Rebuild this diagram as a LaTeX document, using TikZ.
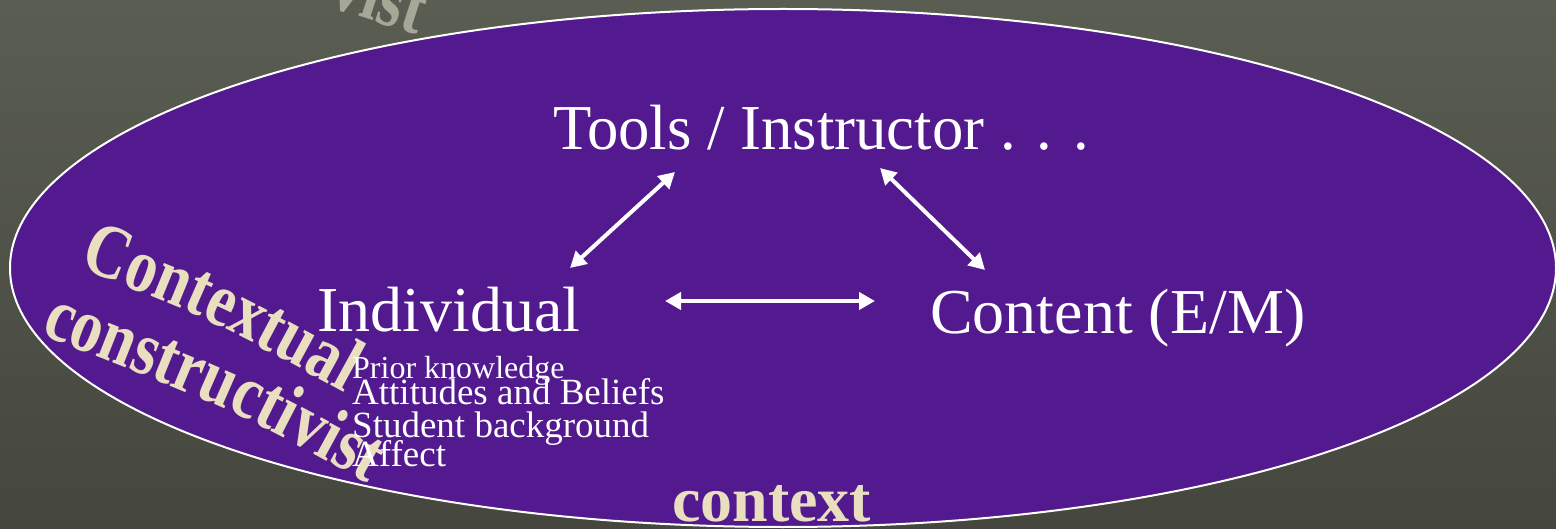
\documentclass[tikz,border=0pt]{standalone}
\usepackage{fontspec}
\setmainfont{Liberation Serif}
\newfontfamily\narrowbold[FakeStretch=0.81, UprightFont=* Bold]{Liberation Serif}
\usetikzlibrary{arrows.meta,decorations.text}
\definecolor{bgtop}{HTML}{5A5D52}
\definecolor{bgbot}{HTML}{45473E}
\definecolor{field}{HTML}{521A8E}
\definecolor{cream}{HTML}{E9DFC0}
\definecolor{ghost}{HTML}{A6A796}
\newcommand{\wordartfont}{\narrowbold\fontsize{77}{77}\selectfont}
\tikzset{
  biglabel/.style={font=\fontsize{64}{64}\selectfont, text=white, inner sep=0pt},
  listitem/.style={font=\fontsize{37}{37}\selectfont, text=white, inner sep=0pt, anchor=base west},
  tilted/.style={font=\wordartfont, text=cream, inner sep=0pt, anchor=base},
  curvedword/.style={decorate, decoration={text along path, text align=left,
      text={|\wordartfont\color{cream}|#1}}},
  dbl/.style={white, line width=4pt, {Triangle[length=16pt,width=17pt]}-{Triangle[length=16pt,width=17pt]}}
}
\begin{document}
\begin{tikzpicture}[x=1pt,y=1pt]
\useasboundingbox (0,0) rectangle (1556,-529);
\clip (0,0) rectangle (1556,-529);
% backdrop
\shade[top color=bgtop, bottom color=bgbot] (0,0) rectangle (1556,-529);
% partial tilted word above the ellipse
\node[tilted, text=ghost, anchor=base east, rotate=-18] (ghostword) at (417,-35) {vist};
% context ellipse
\draw[white, line width=2pt, fill=field] (783,-268) ellipse [x radius=773, y radius=259];

% curved labels on the left
\path[curvedword={Contextual}] (78,-268) .. controls (208,-318) .. (352,-397);
\path[curvedword={constructivist}] (40,-334) .. controls (239,-412) .. (390,-496);
\node[tilted, font=\fontsize{64}{64}\selectfont\bfseries, anchor=base west] (context) at (672,-521) {context};

% main labels
\node[biglabel, anchor=base west] (tools) at (553,-150) {\scalebox{0.98}[1]{Tools / Instructor . . .}};
\node[biglabel, anchor=base west] (indiv) at (317,-332) {Individual};
\node[biglabel, anchor=base west] (content) at (930,-334) {Content (E/M)};

% attributes of the individual
\node[listitem, font=\fontsize{32}{32}\selectfont] (li1) at (352,-378) {Prior knowledge};
\node[listitem] (li2) at (352,-404) {Attitudes and Beliefs};
\node[listitem] (li3) at (352,-437) {Student background};
\node[listitem] (li4) at (352,-466) {Affect};

% connector end points
\coordinate (ti1) at (675,-172);
\coordinate (ti2) at (570,-268);
\coordinate (tc1) at (880,-168);
\coordinate (tc2) at (985,-270);
\coordinate (ic1) at (665,-301);
\coordinate (ic2) at (875,-301);
\draw[dbl] (ti1) -- (ti2);
\draw[dbl] (tc1) -- (tc2);
\draw[dbl] (ic1) -- (ic2);
\end{tikzpicture}
\end{document}
